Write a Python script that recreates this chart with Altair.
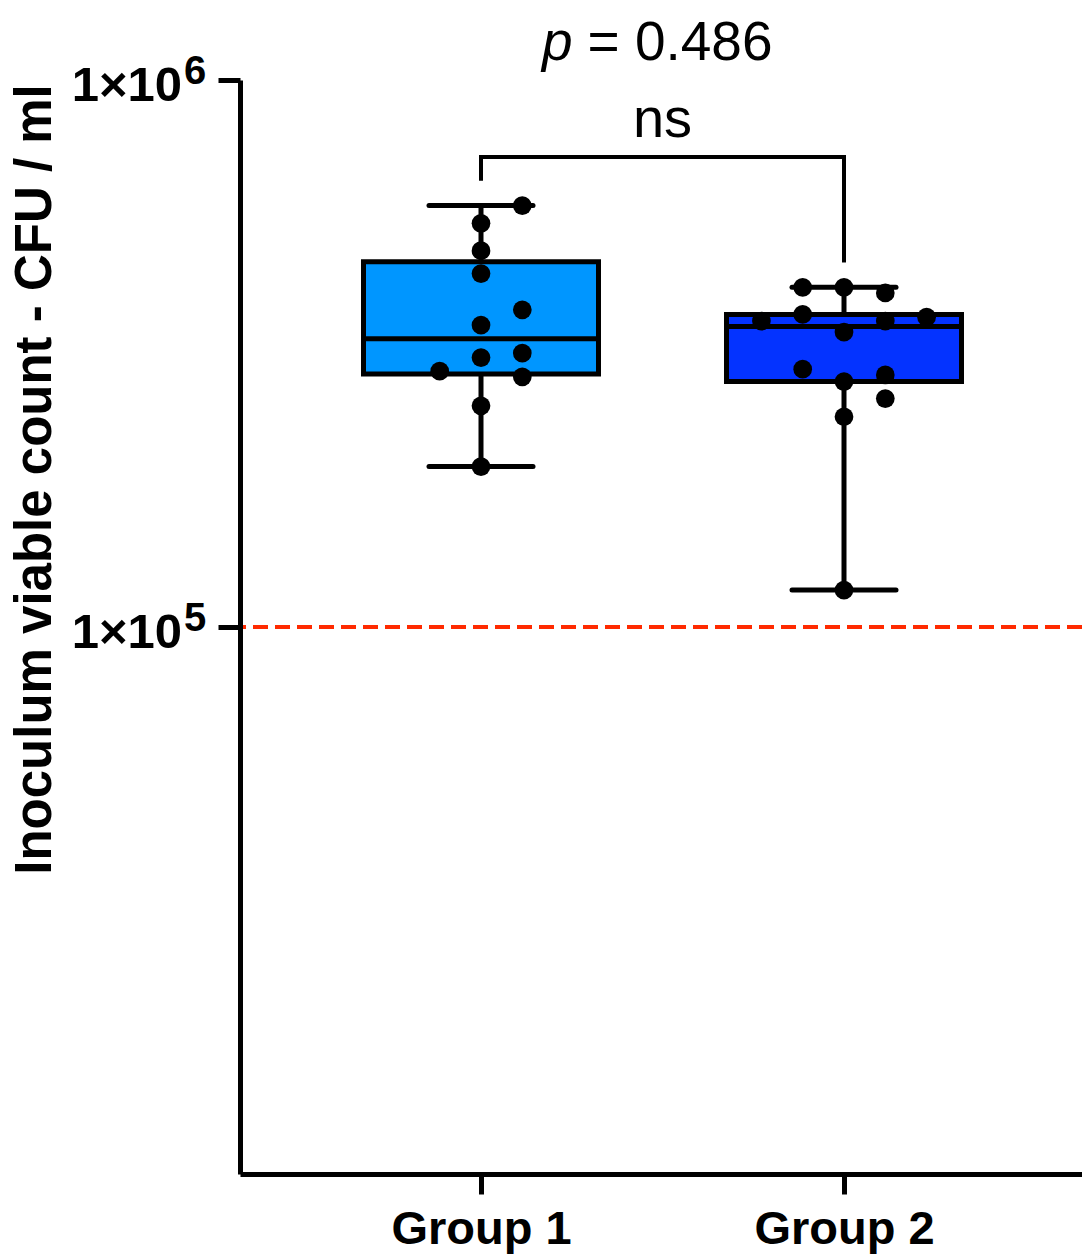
import altair as alt
import numpy as np
import pandas as pd

# ---------------- data ----------------
groups = ["Group 1", "Group 2"]
group1_values = [589500, 547000, 487500, 442700, 380000, 356400,
                 316800, 310800, 293600, 286700, 253700, 196500]
group1_slots = [1, 0, 0, 0, 1, 0, 1, 0, -1, 1, 0, 0]
group2_values = [417900, 417900, 408100, 372700, 362400, 362400, 368500,
                 346100, 296000, 288900, 281000, 261600, 242300, 116800]
group2_slots = [-1, 0, 1, -1, -2, 1, 2, 0, -1, 1, 0, 1, 0, 0]
box_colors = ["#0096FF", "#0433FF"]
threshold = 1e5
p_value = 0.486
sig_label = "ns"
y_ticks = [1e5, 1e6]
y_domain = [1e4, 1e6]
y_title = "Inoculum viable count - CFU / ml"

# ---------------- layout constants ----------------
FONT = "Liberation Sans"
W, H = 842, 1094
UNIT = 363.0                      # px per group step
X0 = 1 - 241 / UNIT
X1 = 1 + (W - 241) / UNIT
BOX_HALF = 117.5 / UNIT
CAP_HALF = 52 / UNIT
SLOT = 41.3 / UNIT


def hinges(v):
    s = sorted(v)
    n = len(s)
    half = n // 2
    return (s[0], float(np.median(s[:half])), float(np.median(s)),
            float(np.median(s[n - half:])), s[-1])


all_vals = [group1_values, group2_values]
all_slots = [group1_slots, group2_slots]

box_rows, pt_rows = [], []
for i, (g, vals, slots) in enumerate(zip(groups, all_vals, all_slots)):
    pos = i + 1
    lo, q1, med, q3, hi = hinges(vals)
    box_rows.append(dict(group=g, pos=pos, left=pos - BOX_HALF, right=pos + BOX_HALF,
                         capl=pos - CAP_HALF, capr=pos + CAP_HALF,
                         lo=lo, q1=q1, med=med, q3=q3, hi=hi))
    for v, s in zip(vals, slots):
        pt_rows.append(dict(group=g, px=pos + s * SLOT, value=v))

box_df = pd.DataFrame(box_rows)
pt_df = pd.DataFrame(pt_rows)

yscale = alt.Scale(type="log", domain=y_domain, nice=False)
xscale = alt.Scale(domain=[X0, X1], nice=False, zero=False)

label_expr = " : ".join(
    [f"datum.value == {i + 1} ? '{g}'" for i, g in enumerate(groups)]) + " : ''"

x_axis = alt.Axis(values=[1, 2], labelExpr=label_expr, title=None, grid=False,
                  tickSize=20, tickWidth=5, tickColor="black",
                  domainWidth=5, domainColor="black",
                  labelFont=FONT, labelFontWeight="bold", labelFontSize=47,
                  labelColor="black", labelPadding=12, labelLimit=500, zindex=1)
y_axis = alt.Axis(values=y_ticks, labels=False, grid=False,
                  tickSize=22, tickWidth=5, tickColor="black",
                  domainWidth=5, domainColor="black",
                  title=y_title, titleFont=FONT, titleFontWeight="bold",
                  titleFontSize=51, titleColor="black", titleAngle=270,
                  titleX=-190, titleY=399, titleAlign="center",
                  titleBaseline="alphabetic", titleLimit=1200, zindex=1)

X = lambda f: alt.X(f, type="quantitative", scale=xscale, axis=x_axis)
Y = lambda f: alt.Y(f, type="quantitative", scale=yscale, axis=y_axis)

thr = alt.Chart(pd.DataFrame({"y": [threshold]})).mark_rule(
    color="#FF2A00", strokeWidth=4, strokeDash=[15, 7]
).encode(y=Y("y"))

boxbase = alt.Chart(box_df)
whisker = boxbase.mark_rule(color="black", strokeWidth=5).encode(
    x=X("pos"), y=Y("lo"), y2="hi")
cap_lo = boxbase.mark_rule(color="black", strokeWidth=5, strokeCap="round").encode(
    x=X("capl"), x2="capr", y=Y("lo"))
cap_hi = boxbase.mark_rule(color="black", strokeWidth=5, strokeCap="round").encode(
    x=X("capl"), x2="capr", y=Y("hi"))
box = boxbase.mark_bar(stroke="black", strokeWidth=5, opacity=1).encode(
    x=X("left"), x2="right", y=Y("q1"), y2="q3",
    color=alt.Color("group:N", scale=alt.Scale(domain=groups, range=box_colors),
                    legend=None))
median = boxbase.mark_rule(color="black", strokeWidth=5).encode(
    x=X("left"), x2="right", y=Y("med"))

points = alt.Chart(pt_df).mark_circle(size=350, color="black", opacity=1).encode(
    x=X("px"), y=Y("value"))

# significance bracket
maxes = [max(v) for v in all_vals]
top = max(maxes) * 1.227
br_df = pd.DataFrame({"pos": [1, 2], "leg": [m * 1.11 for m in maxes], "top": [top, top]})
legs = alt.Chart(br_df).mark_rule(color="black", strokeWidth=4).encode(
    x=X("pos"), y=Y("leg"), y2="top")
bar_df = pd.DataFrame({"a": [1], "b": [2], "top": [top]})
bracket = alt.Chart(bar_df).mark_rule(color="black", strokeWidth=4, strokeCap="square").encode(
    x=X("a"), x2="b", y=Y("top"))

mid = 1.5
ann_df = pd.DataFrame({"x": [mid], "ns": [top * 1.088], "p": [top * 1.505]})
ns_text = alt.Chart(ann_df).mark_text(
    text=sig_label, font=FONT, fontSize=56, align="center", baseline="alphabetic",
    color="black").encode(x=X("x"), y=Y("ns"))
p_text = alt.Chart(ann_df).mark_text(
    text="p", font=FONT, fontSize=55, fontStyle="italic", align="right",
    baseline="alphabetic", dx=-90, color="black").encode(x=X("x"), y=Y("p"))
pv_text = alt.Chart(ann_df).mark_text(
    text=f"= {p_value:.3f}", font=FONT, fontSize=55, align="left",
    baseline="alphabetic", dx=-75, color="black").encode(x=X("x"), y=Y("p"))

# y tick labels written as 1×10^n
tick_df = pd.DataFrame({"x": [X0] * len(y_ticks), "y": y_ticks,
                        "base": ["1×10"] * len(y_ticks),
                        "exp": [str(int(round(np.log10(t)))) for t in y_ticks]})
tick_main = alt.Chart(tick_df).mark_text(
    font=FONT, fontWeight="bold", fontSize=49, align="right", baseline="alphabetic",
    dx=-58, dy=21, color="black").encode(x=X("x"), y=Y("y"), text="base:N")
tick_exp = alt.Chart(tick_df).mark_text(
    font=FONT, fontWeight="bold", fontSize=40, align="left", baseline="alphabetic",
    dx=-56, dy=4, color="black").encode(x=X("x"), y=Y("y"), text="exp:N")

chart = alt.layer(
    thr, whisker, cap_lo, cap_hi, box, median, points, legs, bracket,
    ns_text, p_text, pv_text, tick_main, tick_exp
).properties(
    width=W, height=H,
    padding={"left": 240, "top": 80, "right": 0, "bottom": 84},
    autosize=alt.AutoSizeParams(type="none"),
    background="white",
).configure_view(strokeWidth=0)

chart.save("out.html", embed_options={"renderer": "svg", "actions": False})
